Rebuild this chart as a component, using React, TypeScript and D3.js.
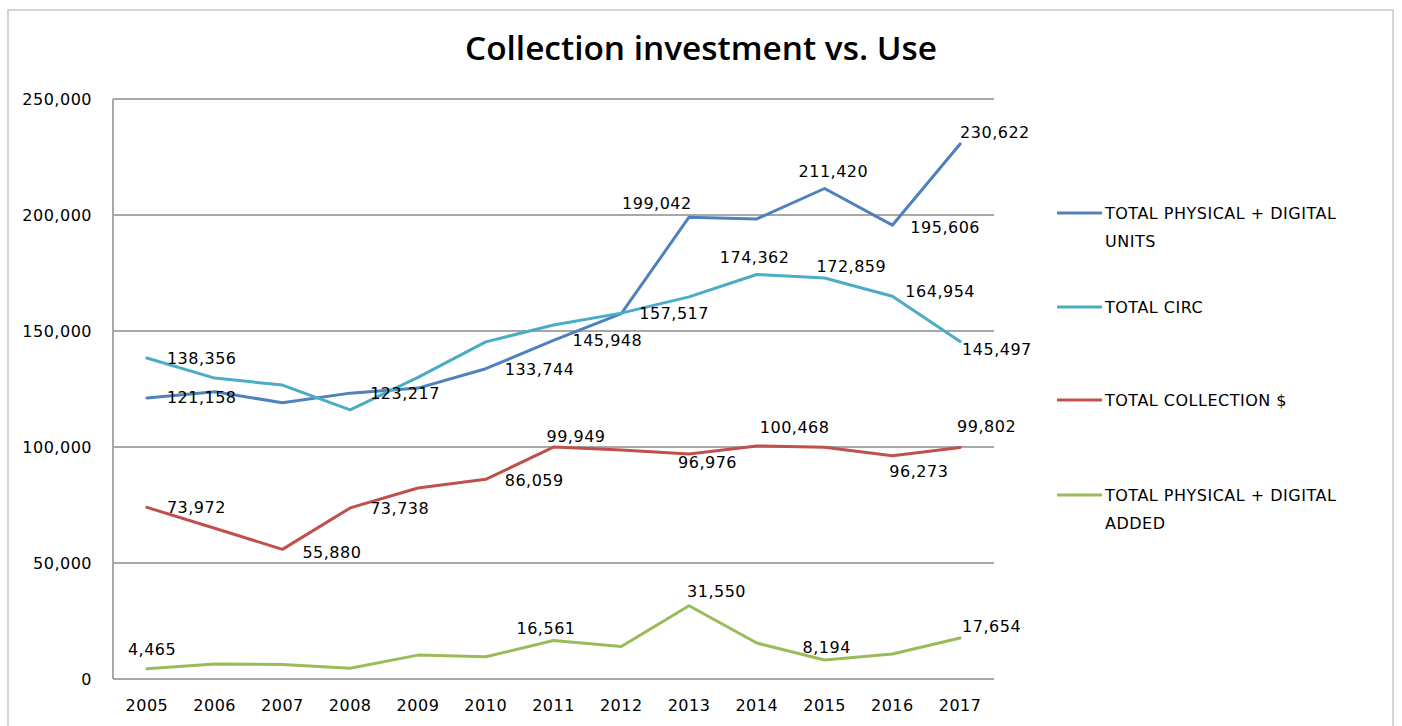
import React from "react";
import * as d3 from "d3";

const TITLE = "Collection investment vs. Use";
const YEARS = ["2005", "2006", "2007", "2008", "2009", "2010", "2011", "2012", "2013", "2014", "2015", "2016", "2017"];
const Y_TICKS = [0, 50000, 100000, 150000, 200000, 250000];

const UNITS = [121158, 123800, 119100, 123217, 125400, 133744, 145948, 157517, 199042, 198300, 211420, 195606, 230622];
const CIRC = [138356, 129700, 126700, 116000, 130000, 145300, 152600, 157700, 164700, 174362, 172859, 164954, 145497];
const COLLECTION = [73972, 65000, 55880, 73738, 82300, 86059, 99949, 98700, 96976, 100468, 99900, 96273, 99802];
const ADDED = [4465, 6500, 6300, 4600, 10300, 9600, 16561, 14000, 31550, 15500, 8194, 10800, 17654];

const SERIES_NAMES = [
  ["TOTAL PHYSICAL + DIGITAL", "UNITS"],
  ["TOTAL CIRC"],
  ["TOTAL COLLECTION $"],
  ["TOTAL PHYSICAL + DIGITAL", "ADDED"],
];
const SERIES_VALUES = [UNITS, CIRC, COLLECTION, ADDED];
const COLORS = ["#4F81BD", "#4BACC6", "#C0504D", "#9BBB59"];

// label placement: [series, yearIndex, dx (left edge offset), dy (vertical offset)]
const LABELS: [number, number, number, number][] = [
  [0, 0, 20, 0], [0, 3, 20, 0], [0, 5, 19, 1], [0, 6, 19, 0], [0, 7, 18, 0],
  [0, 8, -67, -14], [0, 10, -26, -17], [0, 11, 18, 2], [0, 12, 0, -11],
  [1, 0, 20, 0], [1, 9, -37, -17], [1, 10, -8, -11], [1, 11, 13, -5], [1, 12, 2, 8],
  [2, 0, 20, 0], [2, 2, 20, 3], [2, 3, 20, 1], [2, 5, 19, 1], [2, 6, -7, -11],
  [2, 8, -11, 8], [2, 9, 3, -18], [2, 11, -3, 16], [2, 12, -3, -21],
  [3, 0, -19, -19], [3, 6, -37, -12], [3, 8, -2, -14], [3, 10, -22, -12], [3, 12, 2, -12],
];
const LEGEND_Y = [213, 307, 400, 495];

const FONT = "'DejaVu Sans', sans-serif";

export default function App() {
  const left = 113, right = 994, top = 99, bottom = 679;
  const x = d3.scalePoint<string>().domain(YEARS).range([left, right]).padding(0.5);
  const y = d3.scaleLinear().domain([0, 250000]).range([bottom, top]);
  const line = d3
    .line<number>()
    .x((_, i) => x(YEARS[i]) as number)
    .y((d) => y(d));
  const fmt = d3.format(",");
  const grid = "#A8A8A8";
  const textStyle = { fontFamily: FONT, fontSize: 16, letterSpacing: 0.5, fill: "#000" } as const;

  return (
    <svg
      width={1402}
      height={726}
      style={{ position: "absolute", left: 0, top: 0, background: "#fff" }}
    >
      <rect x={8} y={10} width={1385} height={740} fill="#fff" stroke="#C8C8C8" strokeWidth={1.5} />
      <text
        x={701}
        y={60}
        textAnchor="middle"
        style={{ fontFamily: "'Open Sans', sans-serif", fontSize: 33, fontWeight: 600 }}
        textLength={472}
        lengthAdjust="spacingAndGlyphs"
      >
        {TITLE}
      </text>

      {Y_TICKS.map((t) => (
        <g key={t}>
          {t > 0 && <line x1={left} x2={right} y1={y(t)} y2={y(t)} stroke={grid} strokeWidth={2} />}
          <text x={92} y={y(t)} textAnchor="end" dominantBaseline="central" style={textStyle}>
            {fmt(t)}
          </text>
        </g>
      ))}
      <line x1={left} x2={left} y1={top} y2={bottom} stroke={grid} strokeWidth={2} />
      <line x1={left} x2={right} y1={bottom} y2={bottom} stroke={grid} strokeWidth={2} />

      {YEARS.map((yr) => (
        <text key={yr} x={x(yr)} y={705} textAnchor="middle" dominantBaseline="central" style={textStyle}>
          {yr}
        </text>
      ))}

      {SERIES_VALUES.map((vals, si) => (
        <path
          key={si}
          d={line(vals) || ""}
          fill="none"
          stroke={COLORS[si]}
          strokeWidth={3}
          strokeLinejoin="round"
          strokeLinecap="round"
        />
      ))}

      {LABELS.map(([si, yi, dx, dy], k) => (
        <text
          key={k}
          x={(x(YEARS[yi]) as number) + dx}
          y={y(SERIES_VALUES[si][yi]) + dy}
          dominantBaseline="central"
          style={textStyle}
        >
          {fmt(SERIES_VALUES[si][yi])}
        </text>
      ))}

      {SERIES_NAMES.map((lines, si) => (
        <g key={si}>
          <line x1={1057} x2={1102} y1={LEGEND_Y[si]} y2={LEGEND_Y[si]} stroke={COLORS[si]} strokeWidth={3} />
          {lines.map((ln, li) => (
            <text
              key={li}
              x={1105}
              y={LEGEND_Y[si] + li * 28}
              dominantBaseline="central"
              style={textStyle}
            >
              {ln}
            </text>
          ))}
        </g>
      ))}
    </svg>
  );
}
